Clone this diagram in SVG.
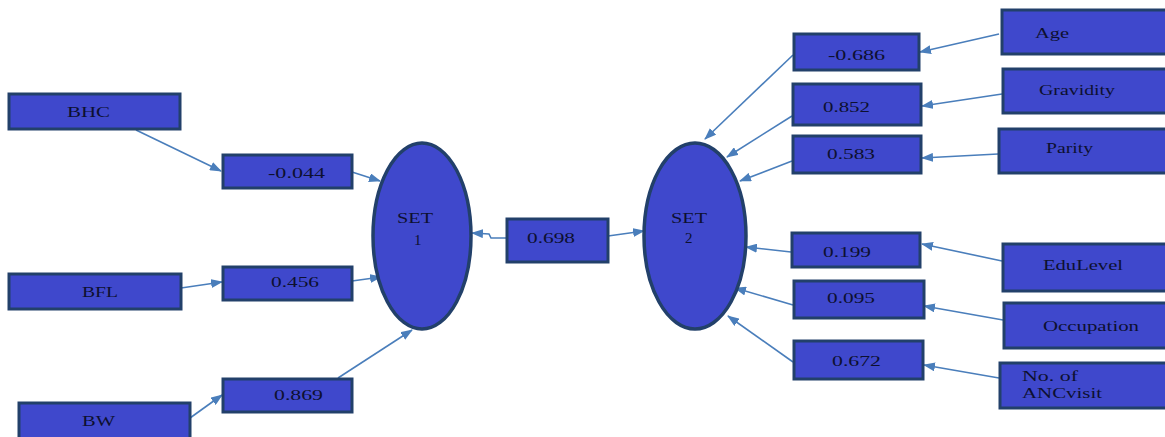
<svg xmlns="http://www.w3.org/2000/svg" width="1165" height="437" viewBox="0 0 1165 437">
  <style>
    .box { fill: #3f48cc; stroke: #22406a; stroke-width: 3; }
    .set { fill: #3f48cc; stroke: #22406a; stroke-width: 3.5; }
    .lbl { font-family: "Liberation Serif", "Times New Roman", serif; font-size: 15px; fill: #0d1030; }
    .edge { stroke: #4a7ebb; stroke-width: 1.6; fill: none; marker-end: url(#arr); }
  </style>
  <defs>
    <marker id="arr" markerUnits="userSpaceOnUse" markerWidth="12" markerHeight="9" refX="11" refY="4.5" orient="auto">
      <path d="M0,0 L12,4.5 L0,9 z" fill="#4a7ebb"/>
    </marker>
  </defs>
  <rect width="1165" height="437" fill="#ffffff"/>

  <!-- connectors -->
  <g id="connectors">
    <line class="edge" x1="136" y1="130" x2="221" y2="171"/>
    <line class="edge" x1="352" y1="172" x2="380" y2="181"/>
    <line class="edge" x1="181" y1="288" x2="222" y2="282"/>
    <line class="edge" x1="352" y1="281" x2="381" y2="277"/>
    <line class="edge" x1="190" y1="418" x2="222" y2="395"/>
    <line class="edge" x1="338" y1="378" x2="412" y2="330"/>
    <polyline class="edge" points="506,238 491,238 489,234 472,233"/>
    <line class="edge" x1="608" y1="236" x2="644" y2="231"/>
    <line class="edge" x1="999" y1="34" x2="920" y2="52"/>
    <line class="edge" x1="793" y1="55" x2="705" y2="139"/>
    <line class="edge" x1="1002" y1="94" x2="922" y2="106"/>
    <line class="edge" x1="792" y1="116" x2="727" y2="157"/>
    <line class="edge" x1="998" y1="154" x2="922" y2="158"/>
    <line class="edge" x1="792" y1="161" x2="740" y2="181"/>
    <line class="edge" x1="1002" y1="261" x2="922" y2="244"/>
    <line class="edge" x1="791" y1="252" x2="746" y2="247"/>
    <line class="edge" x1="1003" y1="320" x2="924" y2="306"/>
    <line class="edge" x1="793" y1="305" x2="735" y2="288"/>
    <line class="edge" x1="999" y1="378" x2="924" y2="365"/>
    <line class="edge" x1="793" y1="362" x2="728" y2="316"/>
  </g>

  <!-- left-hand variables -->
  <g id="bhc"><rect class="box" x="9" y="94" width="171" height="35"/>
    <text class="lbl" x="67" y="117" textLength="43" lengthAdjust="spacingAndGlyphs">BHC</text></g>
  <g id="bfl"><rect class="box" x="9" y="274" width="172" height="35"/>
    <text class="lbl" x="82" y="297" textLength="36" lengthAdjust="spacingAndGlyphs">BFL</text></g>
  <g id="bw"><rect class="box" x="19" y="403" width="171" height="40"/>
    <text class="lbl" x="82" y="426" textLength="33" lengthAdjust="spacingAndGlyphs">BW</text></g>

  <!-- set 1 loadings -->
  <g id="w-bhc"><rect class="box" x="223" y="155" width="129" height="33"/>
    <text class="lbl" x="268" y="178" textLength="57" lengthAdjust="spacingAndGlyphs">-0.044</text></g>
  <g id="w-bfl"><rect class="box" x="223" y="267" width="129" height="33"/>
    <text class="lbl" x="271" y="287" textLength="48" lengthAdjust="spacingAndGlyphs">0.456</text></g>
  <g id="w-bw"><rect class="box" x="223" y="379" width="129" height="33"/>
    <text class="lbl" x="274" y="400" textLength="49" lengthAdjust="spacingAndGlyphs">0.869</text></g>

  <!-- canonical variates -->
  <g id="set1"><ellipse class="set" cx="422" cy="236" rx="49" ry="93"/>
    <text class="lbl" x="397" y="223" textLength="36" lengthAdjust="spacingAndGlyphs">SET</text>
    <text class="lbl" x="414" y="245">1</text></g>
  <g id="corr"><rect class="box" x="507" y="219" width="101" height="43"/>
    <text class="lbl" x="527" y="243" textLength="48" lengthAdjust="spacingAndGlyphs">0.698</text></g>
  <g id="set2"><ellipse class="set" cx="695" cy="236" rx="51" ry="93"/>
    <text class="lbl" x="671" y="223" textLength="36" lengthAdjust="spacingAndGlyphs">SET</text>
    <text class="lbl" x="685" y="243">2</text></g>

  <!-- set 2 loadings -->
  <g id="w-age"><rect class="box" x="794" y="34" width="125" height="36"/>
    <text class="lbl" x="828" y="60" textLength="57" lengthAdjust="spacingAndGlyphs">-0.686</text></g>
  <g id="w-grav"><rect class="box" x="793" y="84" width="128" height="41"/>
    <text class="lbl" x="823" y="112" textLength="47" lengthAdjust="spacingAndGlyphs">0.852</text></g>
  <g id="w-par"><rect class="box" x="793" y="136" width="128" height="37"/>
    <text class="lbl" x="827" y="159" textLength="48" lengthAdjust="spacingAndGlyphs">0.583</text></g>
  <g id="w-edu"><rect class="box" x="792" y="233" width="128" height="34"/>
    <text class="lbl" x="823" y="257" textLength="48" lengthAdjust="spacingAndGlyphs">0.199</text></g>
  <g id="w-occ"><rect class="box" x="794" y="281" width="130" height="37"/>
    <text class="lbl" x="827" y="303" textLength="48" lengthAdjust="spacingAndGlyphs">0.095</text></g>
  <g id="w-anc"><rect class="box" x="794" y="341" width="129" height="38"/>
    <text class="lbl" x="832" y="366" textLength="49" lengthAdjust="spacingAndGlyphs">0.672</text></g>

  <!-- right-hand variables -->
  <g id="age"><rect class="box" x="1002" y="10" width="175" height="44"/>
    <text class="lbl" x="1035" y="38" textLength="34" lengthAdjust="spacingAndGlyphs">Age</text></g>
  <g id="gravidity"><rect class="box" x="1003" y="69" width="175" height="44"/>
    <text class="lbl" x="1039" y="95" textLength="76" lengthAdjust="spacingAndGlyphs">Gravidity</text></g>
  <g id="parity"><rect class="box" x="999" y="129" width="178" height="44"/>
    <text class="lbl" x="1046" y="153" textLength="47" lengthAdjust="spacingAndGlyphs">Parity</text></g>
  <g id="edulevel"><rect class="box" x="1003" y="244" width="175" height="47"/>
    <text class="lbl" x="1043" y="270" textLength="80" lengthAdjust="spacingAndGlyphs">EduLevel</text></g>
  <g id="occupation"><rect class="box" x="1004" y="303" width="175" height="45"/>
    <text class="lbl" x="1043" y="331" textLength="96" lengthAdjust="spacingAndGlyphs">Occupation</text></g>
  <g id="ancvisit"><rect class="box" x="1000" y="363" width="178" height="45"/>
    <text class="lbl" x="1022" y="381" textLength="56" lengthAdjust="spacingAndGlyphs">No. of</text>
    <text class="lbl" x="1022" y="398" textLength="80" lengthAdjust="spacingAndGlyphs">ANCvisit</text></g>
</svg>
